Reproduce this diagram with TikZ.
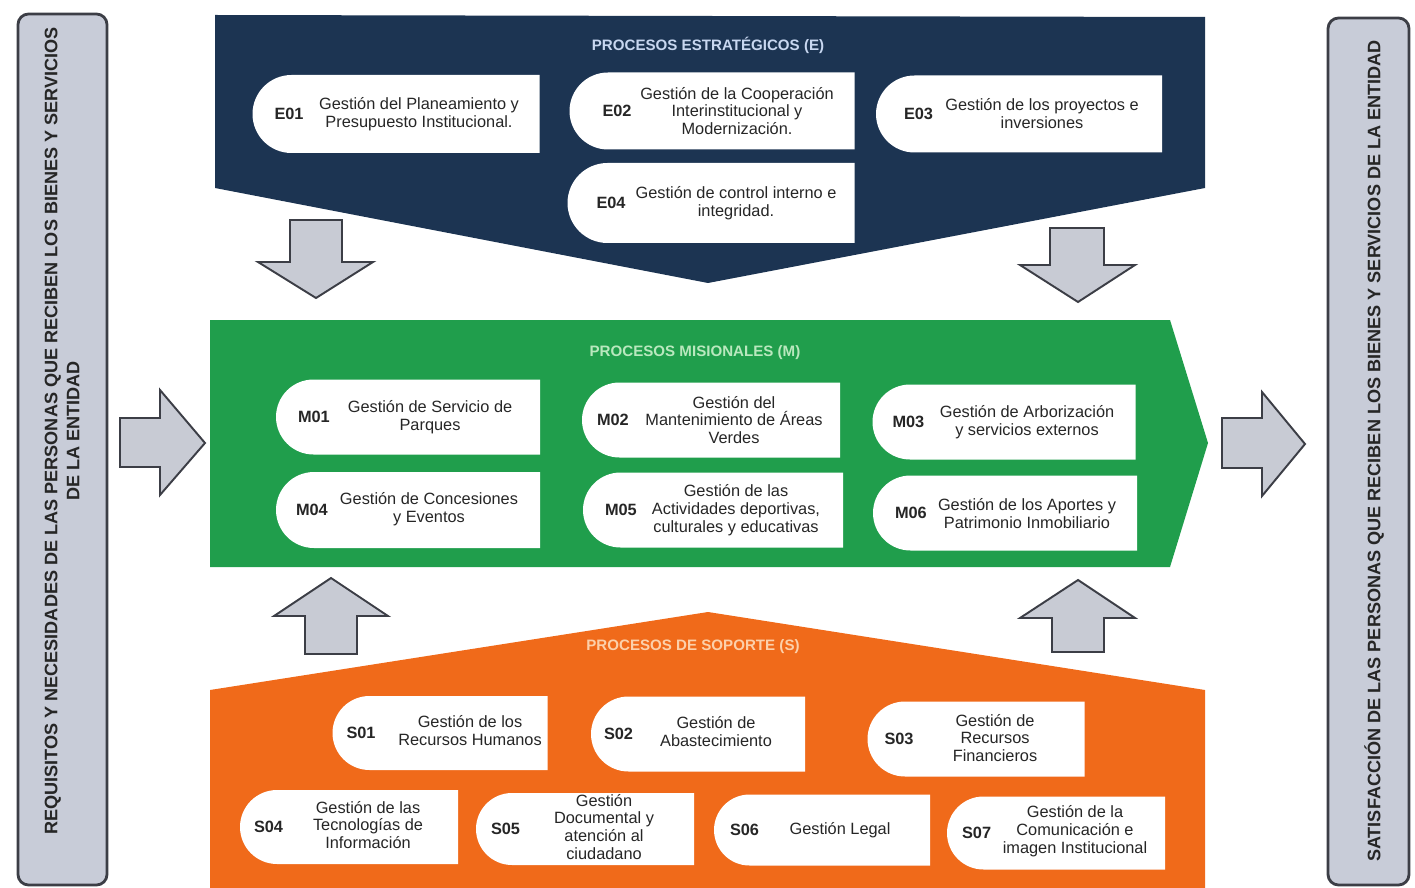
\documentclass[tikz,border=0pt]{standalone}
\usepackage{fontspec}
\setmainfont{Liberation Sans}
\usetikzlibrary{shapes.misc}

\definecolor{stratblue}{RGB}{28,52,82}
\definecolor{misgreen}{RGB}{32,158,76}
\definecolor{soporange}{RGB}{240,106,26}
\definecolor{sidegray}{RGB}{200,204,216}
\definecolor{arrowgray}{RGB}{200,203,212}
\definecolor{edgegray}{RGB}{60,62,70}
\definecolor{strattitle}{RGB}{200,215,240}
\definecolor{mistitle}{RGB}{185,232,190}
\definecolor{soptitle}{RGB}{252,208,170}

\newcommand{\procfont}{\fontsize{9.3}{10.2}\selectfont}
\newcommand{\sidefont}{\fontsize{10.3}{12.5}\selectfont\bfseries}

\begin{document}
\begin{tikzpicture}[x=0.02cm, y=-0.02cm,
	procbox/.style={rounded rectangle, rounded rectangle right arc=none, fill=white, inner sep=0pt},
	boxsize/.style 2 args={minimum width=#1*0.02cm, minimum height=#2*0.02cm},
	code/.style={anchor=west, inner sep=0pt, font=\procfont\bfseries, text=black!85},
	desc/.style={align=center, inner sep=0pt, font=\procfont, text=black!85},
	title/.style={inner sep=0pt, font=\fontsize{8.6}{10}\selectfont\bfseries},
	blockarrow/.style={fill=arrowgray, draw=edgegray, line width=1.1pt, line join=miter},
	sidebox/.style={fill=sidegray, draw=edgegray, line width=1.6pt, rounded corners=6pt}]

	\useasboundingbox (0,0) rectangle (1415,888);

	%side boxes
	\draw[sidebox] (18,14) rectangle (107,885);
	\node[rotate=90, align=center, font=\sidefont, text=black!85] (req) at (62,431)
		{REQUISITOS Y NECESIDADES DE LAS PERSONAS QUE RECIBEN LOS BIENES Y SERVICIOS\\DE LA ENTIDAD};
	\draw[sidebox] (1328,18) rectangle (1409,885);
	\node[rotate=90, font=\sidefont, text=black!85] (sat) at (1374,451)
		{SATISFACCIÓN DE LAS PERSONAS QUE RECIBEN LOS BIENES Y SERVICIOS DE LA ENTIDAD};

	%the three process bands
	\fill[stratblue] (215,15) -- (1205,17) -- (1205,188) -- (708,283) -- (215,188) -- cycle;
	\fill[misgreen] (210,320) -- (1170,320) -- (1208,443) -- (1170,567) -- (210,567) -- cycle;
	\fill[soporange] (210,690) -- (708,612) -- (1205,690) -- (1205,888) -- (210,888) -- cycle;

	\node[title, text=strattitle] (etitle) at (708,45) {PROCESOS ESTRATÉGICOS (E)};
	\node[title, text=mistitle] (mtitle) at (695,353) {PROCESOS MISIONALES (M)};
	\node[title, text=soptitle] (stitle) at (693,647) {PROCESOS DE SOPORTE (S)};

	%gray block arrows
	\draw[blockarrow] (290,220) -- (342,220) -- (342,262) -- (373,262) -- (316,298) -- (258,262) -- (290,262) -- cycle;
	\draw[blockarrow] (1050,228) -- (1104,228) -- (1104,265) -- (1135,265) -- (1078,302) -- (1020,265) -- (1050,265) -- cycle;
	\draw[blockarrow] (120,418) -- (160,418) -- (160,390) -- (205,443) -- (160,495) -- (160,467) -- (120,467) -- cycle;
	\draw[blockarrow] (1222,418) -- (1262,418) -- (1262,392) -- (1305,444) -- (1262,496) -- (1262,468) -- (1222,468) -- cycle;
	\draw[blockarrow] (305,654) -- (305,616) -- (274,616) -- (331,578) -- (388,616) -- (357,616) -- (357,654) -- cycle;
	\draw[blockarrow] (1052,652) -- (1052,618) -- (1020,618) -- (1078,580) -- (1135,618) -- (1104,618) -- (1104,652) -- cycle;

	%strategic processes
	\node[procbox, boxsize={287}{78}] (e01) at (396,114) {};
	\node[code] (e01code) at ([xshift=22*0.02cm]e01.west) {E01};
	\node[desc] (e01text) at (419,114) {Gestión del Planeamiento y\\Presupuesto Institucional.};
	\node[procbox, boxsize={285}{77}] (e02) at (712,111) {};
	\node[code] (e02code) at ([xshift=33*0.02cm]e02.west) {E02};
	\node[desc] (e02text) at (737,111) {Gestión de la Cooperación\\Interinstitucional y\\Modernización.};
	\node[procbox, boxsize={286}{77}] (e03) at (1019,114) {};
	\node[code] (e03code) at ([xshift=28*0.02cm]e03.west) {E03};
	\node[desc] (e03text) at (1042,114) {Gestión de los proyectos e\\inversiones};
	\node[procbox, boxsize={287}{80}] (e04) at (711,203) {};
	\node[code] (e04code) at ([xshift=29*0.02cm]e04.west) {E04};
	\node[desc] (e04text) at (736,203) {Gestión de control interno e\\integridad.};

	%misional processes
	\node[procbox, boxsize={264}{75}] (m01) at (408,417) {};
	\node[code] (m01code) at ([xshift=22*0.02cm]m01.west) {M01};
	\node[desc] (m01text) at (430,417) {Gestión de Servicio de\\Parques};
	\node[procbox, boxsize={258}{75}] (m02) at (711,420) {};
	\node[code] (m02code) at ([xshift=15*0.02cm]m02.west) {M02};
	\node[desc] (m02text) at (734,420) {Gestión del\\Mantenimiento de Áreas\\Verdes};
	\node[procbox, boxsize={263}{75}] (m03) at (1004,422) {};
	\node[code] (m03code) at ([xshift=20*0.02cm]m03.west) {M03};
	\node[desc] (m03text) at (1027,422) {Gestión de Arborización\\y servicios externos};
	\node[procbox, boxsize={264}{76}] (m04) at (408,510) {};
	\node[code] (m04code) at ([xshift=20*0.02cm]m04.west) {M04};
	\node[desc] (m04text) at (429,509) {Gestión de Concesiones\\y Eventos};
	\node[procbox, boxsize={260}{75}] (m05) at (713,510) {};
	\node[code] (m05code) at ([xshift=22*0.02cm]m05.west) {M05};
	\node[desc] (m05text) at (736,510) {Gestión de las\\Actividades deportivas,\\culturales y educativas};
	\node[procbox, boxsize={264}{75}] (m06) at (1005,513) {};
	\node[code] (m06code) at ([xshift=22*0.02cm]m06.west) {M06};
	\node[desc] (m06text) at (1027,514) {Gestión de los Aportes y\\Patrimonio Inmobiliario};

	%support processes
	\node[procbox, boxsize={215}{74}] (s01) at (440,733) {};
	\node[code] (s01code) at ([xshift=14*0.02cm]s01.west) {S01};
	\node[desc] (s01text) at (470,731) {Gestión de los\\Recursos Humanos};
	\node[procbox, boxsize={214}{75}] (s02) at (698,734) {};
	\node[code] (s02code) at ([xshift=13*0.02cm]s02.west) {S02};
	\node[desc] (s02text) at (716,732) {Gestión de\\Abastecimiento};
	\node[procbox, boxsize={217}{75}] (s03) at (976,739) {};
	\node[code] (s03code) at ([xshift=17*0.02cm]s03.west) {S03};
	\node[desc] (s03text) at (995,738) {Gestión de\\Recursos\\Financieros};
	\node[procbox, boxsize={218}{74}] (s04) at (349,827) {};
	\node[code] (s04code) at ([xshift=14*0.02cm]s04.west) {S04};
	\node[desc] (s04text) at (368,825) {Gestión de las\\Tecnologías de\\Información};
	\node[procbox, boxsize={218}{72}] (s05) at (585,829) {};
	\node[code] (s05code) at ([xshift=15*0.02cm]s05.west) {S05};
	\node[desc] (s05text) at (604,827) {Gestión\\Documental y\\atención al\\ciudadano};
	\node[procbox, boxsize={216}{71}] (s06) at (822,830) {};
	\node[code] (s06code) at ([xshift=16*0.02cm]s06.west) {S06};
	\node[desc] (s06text) at (840,830) {Gestión Legal};
	\node[procbox, boxsize={218}{73}] (s07) at (1056,833) {};
	\node[code] (s07code) at ([xshift=15*0.02cm]s07.west) {S07};
	\node[desc] (s07text) at (1075,831) {Gestión de la\\Comunicación e\\imagen Institucional};

\end{tikzpicture}
\end{document}
